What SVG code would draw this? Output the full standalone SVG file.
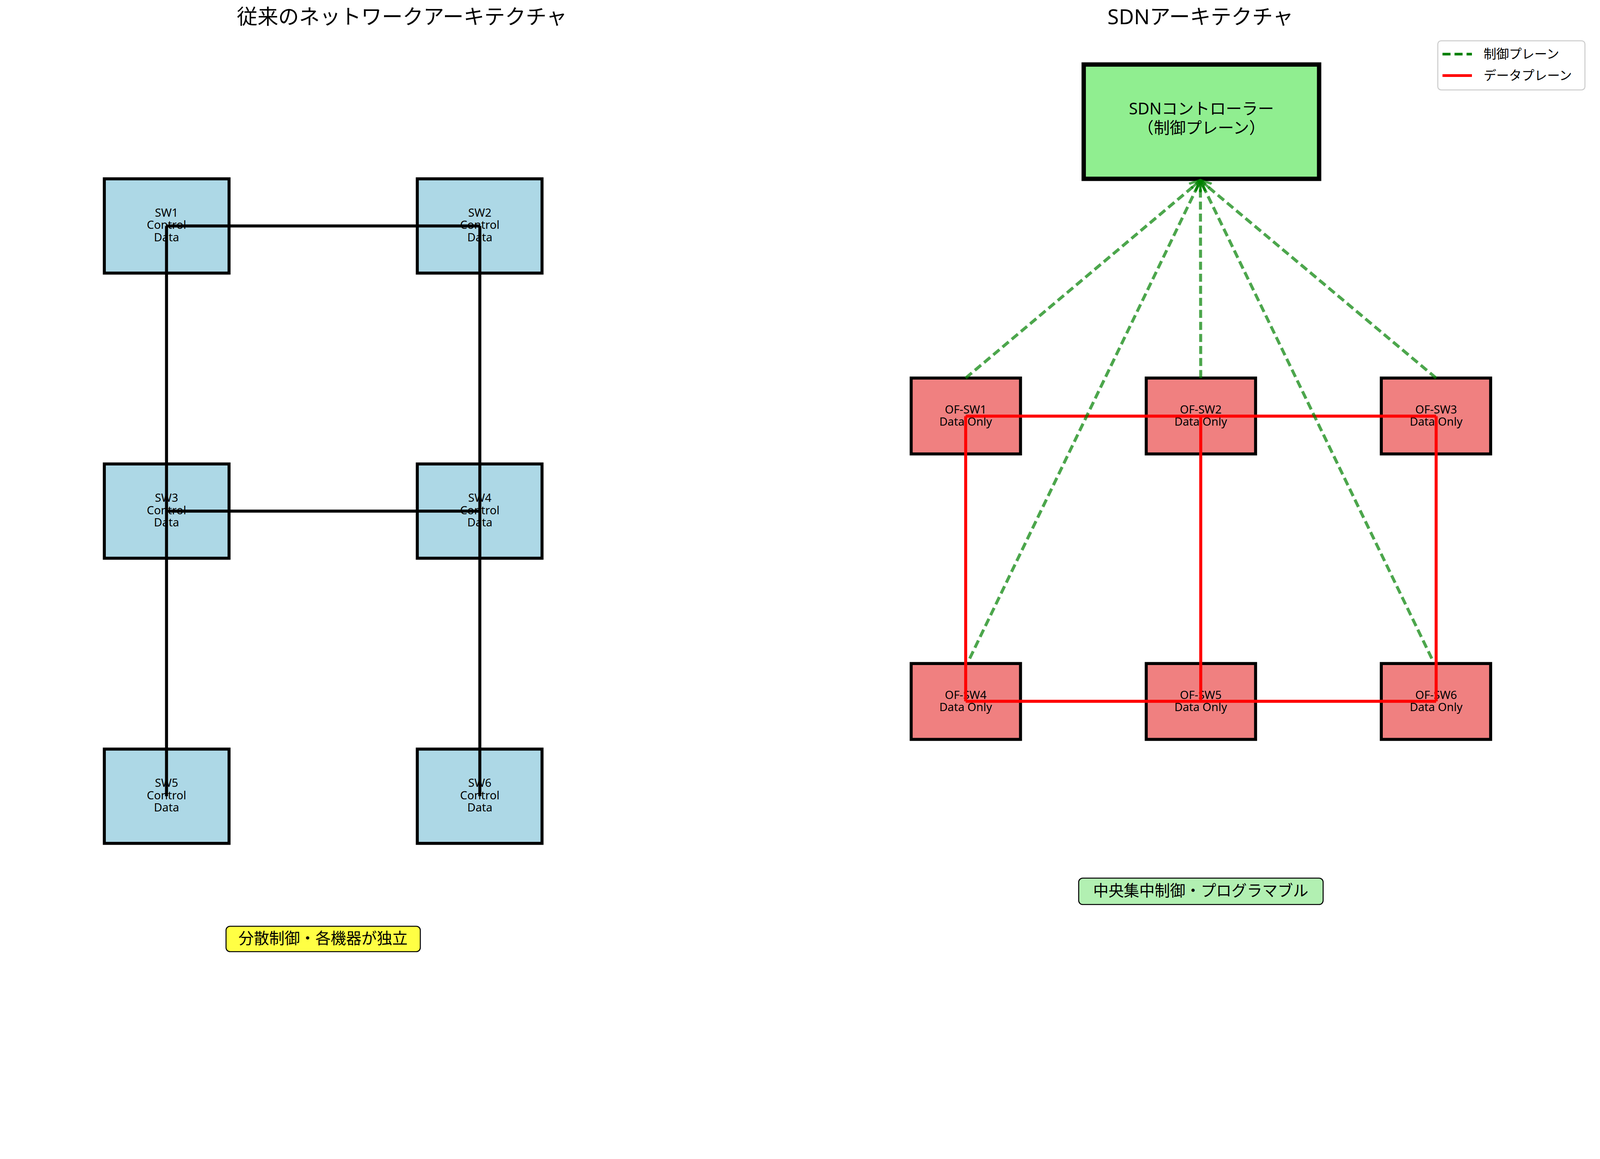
<svg xmlns="http://www.w3.org/2000/svg" width="4770" height="2968" viewBox="0 0 4770 2968">
<style>
text{font-family:"Noto Sans","Noto Sans CJK JP",sans-serif;fill:#000;text-anchor:middle}
.sw{fill:#add8e6;stroke:#000;stroke-width:9}
.of{fill:#f08080;stroke:#000;stroke-width:9}
.t{font-size:34px}
.blk{stroke:#000;stroke-width:9;fill:none}
.red{stroke:#f00;stroke-width:9;fill:none}
.ctl{stroke:#008000;stroke-opacity:0.7;stroke-width:9;stroke-dasharray:24,12;fill:none}
</style>
<defs>
<marker id="ah" viewBox="0 0 10 10" refX="9" refY="5" markerWidth="4" markerHeight="4" orient="auto-start-reverse" markerUnits="strokeWidth">
<path d="M0,1 L10,5 L0,9" fill="none" stroke="#008000" stroke-opacity="0.7" stroke-width="2"/>
</marker>
</defs>
<rect width="4770" height="2968" fill="#fff"/>
<g transform="scale(0.856)">
<text x="1202" y="72" font-size="62">従来のネットワークアーキテクチャ</text>
<text x="3590" y="72" font-size="62">SDNアーキテクチャ</text>

<g id="sw1"><rect class="sw" x="312" y="535" width="373" height="282"/><text class="t" x="498" y="648">SW1</text><text class="t" x="498" y="685">Control</text><text class="t" x="498" y="722">Data</text></g>
<g id="sw2"><rect class="sw" x="1248" y="535" width="373" height="282"/><text class="t" x="1435" y="648">SW2</text><text class="t" x="1435" y="685">Control</text><text class="t" x="1435" y="722">Data</text></g>
<g id="sw3"><rect class="sw" x="312" y="1388" width="373" height="282"/><text class="t" x="498" y="1501">SW3</text><text class="t" x="498" y="1538">Control</text><text class="t" x="498" y="1575">Data</text></g>
<g id="sw4"><rect class="sw" x="1248" y="1388" width="373" height="282"/><text class="t" x="1435" y="1501">SW4</text><text class="t" x="1435" y="1538">Control</text><text class="t" x="1435" y="1575">Data</text></g>
<g id="sw5"><rect class="sw" x="312" y="2241" width="373" height="282"/><text class="t" x="498" y="2354">SW5</text><text class="t" x="498" y="2391">Control</text><text class="t" x="498" y="2428">Data</text></g>
<g id="sw6"><rect class="sw" x="1248" y="2241" width="373" height="282"/><text class="t" x="1435" y="2354">SW6</text><text class="t" x="1435" y="2391">Control</text><text class="t" x="1435" y="2428">Data</text></g>

<g id="ctrl"><rect x="3241" y="193" width="704" height="342" fill="#90ee90" stroke="#000" stroke-width="13"/><text x="3593" y="342" font-size="48">SDNコントローラー</text><text x="3593" y="400" font-size="48">（制御プレーン）</text></g>

<g id="of1"><rect class="of" x="2725" y="1131" width="327" height="227"/><text class="t" x="2888" y="1237">OF-SW1</text><text class="t" x="2888" y="1273">Data Only</text></g>
<g id="of2"><rect class="of" x="3428" y="1131" width="327" height="227"/><text class="t" x="3591" y="1237">OF-SW2</text><text class="t" x="3591" y="1273">Data Only</text></g>
<g id="of3"><rect class="of" x="4131" y="1131" width="327" height="227"/><text class="t" x="4295" y="1237">OF-SW3</text><text class="t" x="4295" y="1273">Data Only</text></g>
<g id="of4"><rect class="of" x="2725" y="1985" width="327" height="227"/><text class="t" x="2888" y="2091">OF-SW4</text><text class="t" x="2888" y="2127">Data Only</text></g>
<g id="of5"><rect class="of" x="3428" y="1985" width="327" height="227"/><text class="t" x="3591" y="2091">OF-SW5</text><text class="t" x="3591" y="2127">Data Only</text></g>
<g id="of6"><rect class="of" x="4131" y="1985" width="327" height="227"/><text class="t" x="4295" y="2091">OF-SW6</text><text class="t" x="4295" y="2127">Data Only</text></g>

<g id="connectors">
<path class="blk" d="M498,676 H1435 M498,1529 H1435 M498,676 V2382 M1435,676 V2382"/>
<path class="red" d="M2888,1245 H4295 M2888,2098 H4295 M2888,1245 V2098 M3591,1245 V2098 M4295,1245 V2098"/>
<line class="ctl" x1="2888" y1="1131" x2="3590" y2="540" marker-end="url(#ah)"/>
<line class="ctl" x1="3591" y1="1131" x2="3590" y2="540" marker-end="url(#ah)"/>
<line class="ctl" x1="4295" y1="1131" x2="3590" y2="540" marker-end="url(#ah)"/>
<line class="ctl" x1="2900" y1="1970" x2="3590" y2="540" marker-end="url(#ah)"/>
<line class="ctl" x1="4282" y1="1970" x2="3590" y2="540" marker-end="url(#ah)"/>
</g>

<g id="label-left"><rect x="676" y="2771" width="581" height="76" rx="12" fill="#ffff44" stroke="#000" stroke-width="3"/><text x="966" y="2824" font-size="46">分散制御・各機器が独立</text></g>
<g id="label-right"><rect x="3226" y="2627" width="731" height="79" rx="12" fill="#b2f0b2" stroke="#000" stroke-width="3"/><text x="3591" y="2681" font-size="46">中央集中制御・プログラマブル</text></g>

<g id="legend"><rect x="4300" y="122" width="440" height="147" rx="10" fill="#fff" stroke="#ccc" stroke-width="3"/>
<line x1="4314" y1="162" x2="4402" y2="162" stroke="#008000" stroke-width="8" stroke-dasharray="24,12"/>
<text x="4437" y="175" font-size="38" style="text-anchor:start">制御プレーン</text>
<line x1="4314" y1="226" x2="4402" y2="226" stroke="#f00" stroke-width="8"/>
<text x="4437" y="239" font-size="38" style="text-anchor:start">データプレーン</text></g>
</g>
</svg>
